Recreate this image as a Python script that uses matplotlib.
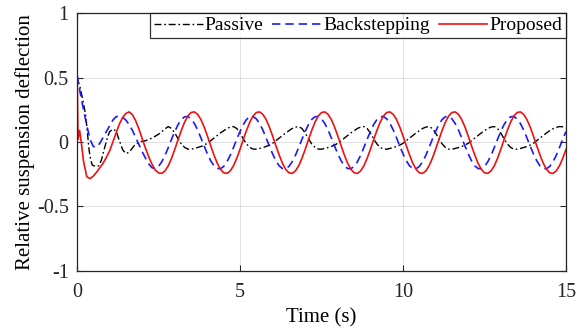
import numpy as np
import matplotlib
matplotlib.use("Agg")
import matplotlib.pyplot as plt

plt.rcParams['font.family'] = ['Liberation Serif', 'DejaVu Serif']

# ---------------- data ----------------
x_ticks = [0, 5, 10, 15]
y_ticks = [-1, -0.5, 0, 0.5, 1]
y_tick_labels = ['-1', '-0.5', '0', '0.5', '1']
series_names = ['Passive', 'Backstepping', 'Proposed']

# Passive (black dash-dot): early transient, then samples every 0.1 s from 2.8 s
passive_t0 = [0, 0.1, 0.2, 0.27, 0.32, 0.37, 0.42, 0.47, 0.57, 0.67, 0.75, 0.83,
              0.93, 1.0, 1.1, 1.2, 1.3, 1.4, 1.5, 1.6, 1.75, 1.9, 2.0, 2.1, 2.2, 2.3,
              2.4, 2.5, 2.6, 2.7]
passive_v0 = [0.50, 0.42, 0.30, 0.20, 0.07, -0.06, -0.14, -0.18, -0.19, -0.185, -0.14, -0.06,
              0.03, 0.08, 0.10, 0.085, 0.01, -0.06, -0.09, -0.08, -0.03, 0.0, 0.005, 0.01, 0.02, 0.03,
              0.045, 0.06, 0.08, 0.102]
passive_v1 = [  # 2.8 s ... 15.0 s, step 0.1 s
    0.12, 0.105, 0.07, 0.025, -0.015, -0.042, -0.055, -0.056, -0.05, -0.043,
    -0.035, -0.024, -0.01, 0.01, 0.03, 0.05, 0.07, 0.088, 0.105, 0.116,
    0.12, 0.105, 0.07, 0.025, -0.015, -0.042, -0.055, -0.056, -0.05, -0.043,
    -0.035, -0.024, -0.01, 0.01, 0.03, 0.05, 0.07, 0.088, 0.105, 0.116,
    0.12, 0.105, 0.07, 0.025, -0.015, -0.042, -0.055, -0.056, -0.05, -0.043,
    -0.035, -0.024, -0.01, 0.01, 0.03, 0.05, 0.07, 0.088, 0.105, 0.116,
    0.12, 0.105, 0.07, 0.025, -0.015, -0.042, -0.055, -0.056, -0.05, -0.043,
    -0.035, -0.024, -0.01, 0.01, 0.03, 0.05, 0.07, 0.088, 0.105, 0.116,
    0.12, 0.105, 0.07, 0.025, -0.015, -0.042, -0.055, -0.056, -0.05, -0.043,
    -0.035, -0.024, -0.01, 0.01, 0.03, 0.05, 0.07, 0.088, 0.105, 0.116,
    0.12, 0.105, 0.07, 0.025, -0.015, -0.042, -0.055, -0.056, -0.05, -0.043,
    -0.035, -0.024, -0.01, 0.01, 0.03, 0.05, 0.07, 0.088, 0.103, 0.113,
    0.12, 0.118, 0.11]

# Backstepping (blue dashed): early transient, then samples every 0.1 s from 3.4 s
back_t0 = [0, 0.1, 0.2, 0.3, 0.4, 0.5, 0.6, 0.7, 0.8, 0.9, 1.0, 1.1, 1.2, 1.3,
           1.4, 1.5, 1.6, 1.7, 1.8, 1.9, 2.0, 2.1, 2.2, 2.3, 2.4, 2.5, 2.6, 2.7,
           2.8, 2.9, 3.0, 3.1, 3.2, 3.3]
back_v0 = [0.52, 0.38, 0.25, 0.13, 0.02, -0.035, -0.04, -0.01, 0.035, 0.08, 0.125, 0.17, 0.197, 0.20,
           0.192, 0.17, 0.135, 0.09, 0.035, -0.02, -0.075, -0.125, -0.17, -0.20, -0.207, -0.19, -0.154, -0.104,
           -0.043, 0.021, 0.082, 0.135, 0.175, 0.196]
back_v1 = [  # 3.4 s ... 15.0 s, step 0.1 s
    0.198, 0.180, 0.144, 0.094, 0.033, -0.031, -0.092, -0.145, -0.185, -0.206,
    -0.208, -0.190, -0.154, -0.104, -0.043, 0.021, 0.082, 0.135, 0.175, 0.196,
    0.198, 0.180, 0.144, 0.094, 0.033, -0.031, -0.092, -0.145, -0.185, -0.206,
    -0.208, -0.190, -0.154, -0.104, -0.043, 0.021, 0.082, 0.135, 0.175, 0.196,
    0.198, 0.180, 0.144, 0.094, 0.033, -0.031, -0.092, -0.145, -0.185, -0.206,
    -0.208, -0.190, -0.154, -0.104, -0.043, 0.021, 0.082, 0.135, 0.175, 0.196,
    0.198, 0.180, 0.144, 0.094, 0.033, -0.031, -0.092, -0.145, -0.185, -0.206,
    -0.208, -0.190, -0.154, -0.104, -0.043, 0.021, 0.082, 0.135, 0.175, 0.196,
    0.198, 0.180, 0.144, 0.094, 0.033, -0.031, -0.092, -0.145, -0.185, -0.206,
    -0.208, -0.190, -0.154, -0.104, -0.043, 0.021, 0.082, 0.135, 0.175, 0.196,
    0.198, 0.180, 0.144, 0.094, 0.033, -0.031, -0.092, -0.145, -0.185, -0.206,
    -0.208, -0.190, -0.154, -0.104, -0.043, 0.021, 0.082]

# Proposed (red solid): early transient, then samples every 0.1 s from 1.6 s
prop_t0 = [0, 0.03, 0.08, 0.13, 0.2, 0.3, 0.4, 0.5, 0.6, 0.7, 0.8, 0.9, 1.0, 1.1,
           1.2, 1.3, 1.4, 1.5]
prop_v0 = [0.63, 0.02, 0.09, 0.0, -0.15, -0.27, -0.285, -0.265, -0.235, -0.20, -0.165, -0.12, -0.07, 0.0,
           0.07, 0.14, 0.19, 0.222]
prop_v1 = [  # 1.6 s ... 15.0 s, step 0.1 s
    0.234, 0.212, 0.165, 0.100, 0.025, -0.048, -0.115, -0.172, -0.218, -0.240,
    -0.244, -0.225, -0.185, -0.127, -0.057, 0.018, 0.090, 0.154, 0.202, 0.229,
    0.234, 0.215, 0.175, 0.117, 0.047, -0.028, -0.100, -0.164, -0.212, -0.239,
    -0.244, -0.225, -0.185, -0.127, -0.057, 0.018, 0.090, 0.154, 0.202, 0.229,
    0.234, 0.215, 0.175, 0.117, 0.047, -0.028, -0.100, -0.164, -0.212, -0.239,
    -0.244, -0.225, -0.185, -0.127, -0.057, 0.018, 0.090, 0.154, 0.202, 0.229,
    0.234, 0.215, 0.175, 0.117, 0.047, -0.028, -0.100, -0.164, -0.212, -0.239,
    -0.244, -0.225, -0.185, -0.127, -0.057, 0.018, 0.090, 0.154, 0.202, 0.229,
    0.234, 0.215, 0.175, 0.117, 0.047, -0.028, -0.100, -0.164, -0.212, -0.239,
    -0.244, -0.225, -0.185, -0.127, -0.057, 0.018, 0.090, 0.154, 0.202, 0.229,
    0.234, 0.215, 0.175, 0.117, 0.047, -0.028, -0.100, -0.164, -0.212, -0.239,
    -0.244, -0.225, -0.185, -0.127, -0.057, 0.018, 0.090, 0.154, 0.202, 0.229,
    0.234, 0.215, 0.175, 0.117, 0.047, -0.028, -0.100, -0.164, -0.212, -0.239,
    -0.244, -0.225, -0.185, -0.127, -0.057]


def sample_times(start, values, step=0.1):
    return list(np.round(start + step * np.arange(len(values)), 3))


passive_t = passive_t0 + sample_times(2.8, passive_v1)
passive_v = passive_v0 + passive_v1
back_t = back_t0 + sample_times(3.4, back_v1)
back_v = back_v0 + back_v1
prop_t = prop_t0 + sample_times(1.6, prop_v1)
prop_v = prop_v0 + prop_v1

# ---------------- figure ----------------
fig = plt.figure(figsize=(5.85, 3.29), dpi=100)
ax = fig.add_axes([77/585, 1 - 270.7/329, (566 - 77)/585, (270.7 - 13.3)/329])

ax.plot(passive_t, passive_v, color='black', lw=1.0, linestyle=(0, (5, 2, 1.2, 2)),
        label=series_names[0])
ax.plot(back_t, back_v, color='#1a1aff', lw=1.2, linestyle=(0, (5, 3)),
        label=series_names[1])
ax.plot(prop_t, prop_v, color='#f01010', lw=1.2, linestyle='-',
        label=series_names[2])

ax.set_xlim(0, 15)
ax.set_ylim(-1, 1)
ax.set_xticks(x_ticks)
ax.set_xticklabels([str(v) for v in x_ticks])
ax.set_yticks(y_ticks)
ax.set_yticklabels(y_tick_labels)
ax.grid(True, color='#dcdcdc', lw=0.6)
ax.set_axisbelow(True)
ax.tick_params(direction='in', length=4, width=0.8, top=True, right=True,
               labelsize=14.5, colors='#262626')
ax.tick_params(axis='x', pad=9)
ax.tick_params(axis='y', pad=6)
for s in ax.spines.values():
    s.set_linewidth(0.9)
    s.set_color('#262626')

ax.set_xlabel('Time (s)', fontsize=15, labelpad=4)
ax.set_ylabel('Relative suspension deflection', fontsize=15, labelpad=1)

leg = ax.legend(loc='upper right', ncol=3, fontsize=14, frameon=True, fancybox=False,
                borderaxespad=0, handlelength=2.5, handletextpad=0.12,
                columnspacing=0.45, borderpad=0.18, edgecolor='black')
leg.get_frame().set_linewidth(0.9)

fig.savefig('out.png', dpi=100)
